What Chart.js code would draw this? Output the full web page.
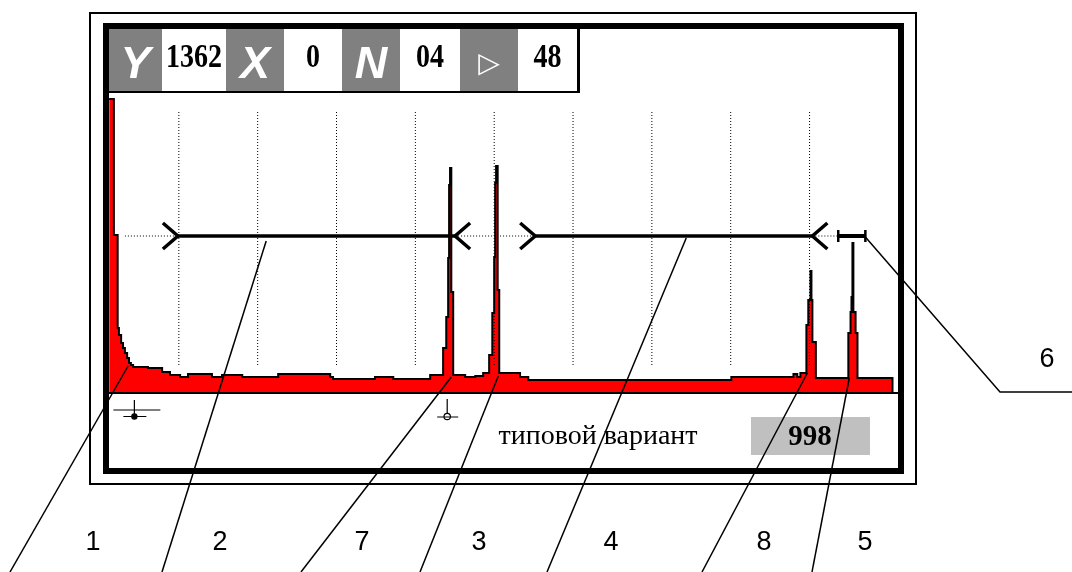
<!DOCTYPE html>
<html>
<head>
<meta charset="utf-8">
<script src="https://cdn.jsdelivr.net/npm/chart.js@4.4.1/dist/chart.umd.min.js"></script>
<style>
  body { margin: 0; background: #fff; }
  canvas { display: block; }
</style>
</head>
<body>
<canvas id="scan" width="1072" height="572"></canvas>
<script>
// A-scan trace: sweep position (10 divisions of 25) vs amplitude
const scanX = [2.9, 4.4, 5.6, 6.0, 6.7, 7.3, 7.9, 8.6, 9.2, 9.8, 10.5, 15.2, 19.7, 22.2, 25.4, 27.9,
  35.5, 38.7, 45.1, 56.5, 73.0, 73.9, 87.2, 93.0, 104.7, 108.8, 109.8, 110.4, 110.7, 111.0, 111.4,
  112.0, 115.8, 119.0, 121.5, 123.4, 124.4, 125.0, 125.3, 125.6, 126.1, 126.6, 133.2, 135.8, 200.2,
  219.9, 221.1, 222.1, 224.0, 224.6, 225.3, 225.6, 225.9, 227.0, 237.3, 238.0, 238.3, 238.6, 238.9,
  239.6, 240.2, 251.3];
const scanY = [294, 158, 65, 58, 50, 45, 40, 35, 30, 28, 26, 25, 21, 18, 16, 19,
  16, 18, 16, 19, 16, 14, 16, 14, 18, 45, 76, 135, 208, 225, 101,
  18, 16, 17, 20, 38, 80, 136, 210, 227, 103, 20, 16, 13, 16,
  19, 16, 20, 68, 93, 122, 93, 51, 15, 60, 81, 96, 150, 81,
  60, 15, 0];

const gridX = [25, 50, 75, 100, 125, 150, 175, 200, 225];
const gridRange = [28, 283];

const gateLevel = 157;
const gates = [[24.7, 112.6], [138.0, 225.9]];
const gateDots = [[7.9, 24.7], [112.6, 138.0], [225.9, 234.1]];
const gate6 = [234.1, 242.7];

const markerX = [10.9, 110.1];

const headerText = ['Y', '1362', 'X', '0', 'N', '04', '\u25B7', '48'];
const footText = 'типовой вариант';
const footValue = '998';

// callouts: label, anchor [x, amplitude]
const calloutLabels = ['1', '2', '7', '3', '4', '8', '5', '6'];
const calloutAnchor = [[8.9, 27], [52.7, 152], [111.4, 16], [126.3, 17], [185.9, 155], [224.3, 20], [237.6, 15], [242.7, 156]];

const pts = scanX.map((x, i) => ({x: x, y: scanY[i]}));

const datasets = [];
gates.forEach(g => datasets.push({
  data: [{x: g[0], y: gateLevel}, {x: g[1], y: gateLevel}],
  borderColor: '#000', borderWidth: 3.5, pointRadius: 0, order: 0
}));
datasets.push({
  data: [{x: gate6[0], y: gateLevel}, {x: gate6[1], y: gateLevel}],
  borderColor: '#000', borderWidth: 4, pointRadius: 0, order: 0, clip: false
});
gateDots.forEach(g => datasets.push({
  data: [{x: g[0], y: gateLevel}, {x: g[1], y: gateLevel}],
  borderColor: '#000', borderWidth: 1, borderDash: [1, 2], pointRadius: 0, order: 1
}));
gridX.forEach(x => datasets.push({
  data: [{x: x, y: gridRange[0]}, {x: x, y: gridRange[1]}],
  borderColor: '#000', borderWidth: 1, borderDash: [1, 2], pointRadius: 0, order: 1
}));
datasets.push({
  data: [{x: 1.9, y: 0}, {x: 254.4, y: 0}],
  borderColor: '#000', borderWidth: 2, pointRadius: 0, order: 2, clip: false
});
datasets.push({
  data: pts,
  stepped: true,
  fill: 'origin',
  backgroundColor: '#ff0000',
  borderColor: '#000',
  borderWidth: 2,
  pointRadius: 0,
  order: 3,
  clip: false
});

const overlay = {
  id: 'overlay',
  afterDraw(chart) {
    const ctx = chart.ctx;
    const xs = chart.scales.x, ys = chart.scales.y;
    const gy = ys.getPixelForValue(gateLevel);
    ctx.save();
    ctx.strokeStyle = '#000';
    ctx.fillStyle = '#000';

    // gate chevrons
    ctx.lineWidth = 3.5;
    ctx.lineCap = 'butt';
    const chevron = (xv, dir) => {
      const x = xs.getPixelForValue(xv);
      ctx.beginPath();
      ctx.moveTo(x - dir * 15, gy - 13);
      ctx.lineTo(x, gy);
      ctx.lineTo(x - dir * 15, gy + 13);
      ctx.stroke();
    };
    gates.forEach(g => { chevron(g[0], 1); chevron(g[1], -1); });

    // gate 6 end caps
    ctx.lineWidth = 2.5;
    gate6.forEach(v => {
      const x = xs.getPixelForValue(v);
      ctx.beginPath();
      ctx.moveTo(x, gy - 6);
      ctx.lineTo(x, gy + 6);
      ctx.stroke();
    });

    // frames
    ctx.lineWidth = 6;
    ctx.strokeRect(106, 26, 795, 445);
    ctx.lineWidth = 2;
    ctx.strokeRect(90, 13, 826, 471);

    // header strip
    const cellW = [53, 64, 58, 58, 58, 60, 58, 59];
    let cx = 109;
    ctx.textAlign = 'center';
    headerText.forEach((t, i) => {
      const w = cellW[i];
      const dark = i % 2 === 0;
      if (dark) {
        ctx.fillStyle = '#808080';
        ctx.fillRect(cx, 29, w, 63);
      }
      ctx.fillStyle = dark ? '#fff' : '#000';
      if (i === 6) {
        ctx.font = '28px "DejaVu Sans"';
        ctx.fillText(t, cx + w / 2, 72);
      } else if (dark) {
        ctx.font = 'italic bold 45px "Liberation Sans"';
        ctx.fillText(t, cx + w / 2, 78);
      } else {
        // numbers look a bit tall in the original
        ctx.save();
        ctx.translate(cx + w / 2, 67);
        ctx.scale(1, 1.18);
        ctx.font = 'bold 28px "Liberation Serif"';
        ctx.fillText(t, 0, 0);
        ctx.restore();
      }
      cx += w;
    });
    ctx.fillStyle = '#000';
    ctx.lineWidth = 3;
    ctx.beginPath();
    ctx.moveTo(578.5, 29);
    ctx.lineTo(578.5, 93);
    ctx.stroke();
    ctx.lineWidth = 2;
    ctx.beginPath();
    ctx.moveTo(109, 92);
    ctx.lineTo(580, 92);
    ctx.stroke();

    // probe markers under the trace
    ctx.lineWidth = 1.2;
    const ma = xs.getPixelForValue(markerX[0]);
    ctx.beginPath();
    ctx.moveTo(ma - 21, 410); ctx.lineTo(ma + 26, 410);
    ctx.moveTo(ma, 400); ctx.lineTo(ma, 416);
    ctx.moveTo(ma - 11, 416.5); ctx.lineTo(ma + 12, 416.5);
    ctx.stroke();
    ctx.beginPath();
    ctx.arc(ma, 416.5, 3.2, 0, Math.PI * 2);
    ctx.fill();
    const mb = xs.getPixelForValue(markerX[1]);
    ctx.beginPath();
    ctx.moveTo(mb, 399); ctx.lineTo(mb, 413);
    ctx.moveTo(mb - 10, 417); ctx.lineTo(mb + 11, 417);
    ctx.stroke();
    ctx.beginPath();
    ctx.arc(mb, 416.5, 3.2, 0, Math.PI * 2);
    ctx.stroke();

    // footer
    ctx.fillStyle = '#c0c0c0';
    ctx.fillRect(751, 417, 119, 38);
    ctx.fillStyle = '#000';
    ctx.textAlign = 'center';
    ctx.font = '28px "Liberation Serif"';
    ctx.fillText(footText, 598, 444);
    ctx.font = 'bold 29px "Liberation Serif"';
    ctx.fillText(footValue, 810, 445);

    // callout leaders
    const bottomX = [10, 162, 301, 420, 547, 702, 812];
    const labelX = [93, 220, 362, 479, 611, 764, 865];
    ctx.lineWidth = 1.5;
    ctx.font = '27px "Liberation Sans"';
    ctx.textBaseline = 'middle';
    calloutAnchor.forEach((a, i) => {
      const ax = xs.getPixelForValue(a[0]);
      const ay = ys.getPixelForValue(a[1]);
      ctx.beginPath();
      ctx.moveTo(ax, ay);
      if (i < 7) {
        ctx.lineTo(bottomX[i], 572);
        ctx.stroke();
        ctx.fillText(calloutLabels[i], labelX[i], 543);
      } else {
        ctx.lineTo(1000, 392);
        ctx.lineTo(1072, 392);
        ctx.stroke();
        ctx.fillText(calloutLabels[i], 1047, 360);
      }
    });
    ctx.restore();
  }
};

new Chart(document.getElementById('scan'), {
  type: 'line',
  data: { datasets: datasets },
  options: {
    responsive: false,
    animation: false,
    devicePixelRatio: 1,
    layout: { padding: { left: 100, right: 171, top: 93, bottom: 179 } },
    plugins: { legend: { display: false }, tooltip: { enabled: false } },
    scales: {
      x: { type: 'linear', min: 0, max: 254, display: false },
      y: { min: 0, max: 300, display: false }
    }
  },
  plugins: [overlay]
});
</script>
</body>
</html>
